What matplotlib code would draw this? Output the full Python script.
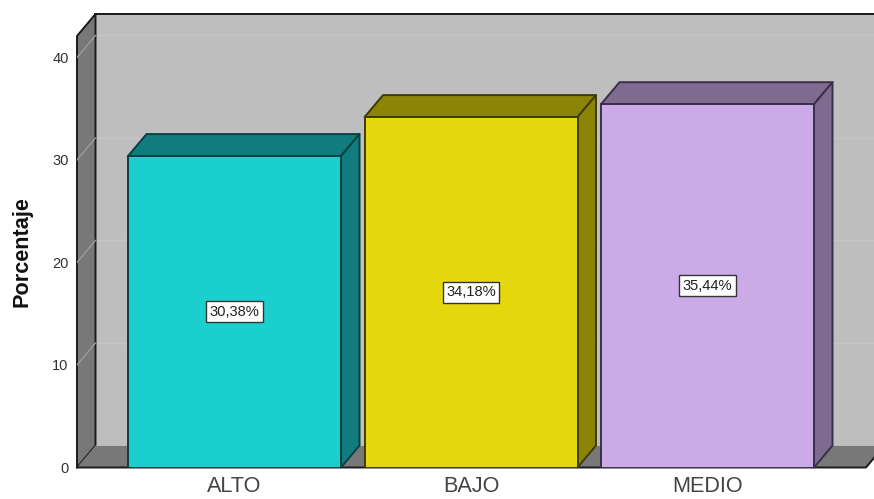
import matplotlib
matplotlib.use("Agg")
import matplotlib.pyplot as plt
from matplotlib.patches import Polygon

plt.rcParams['font.family'] = ['Liberation Sans', 'DejaVu Sans']

categories = ["ALTO", "BAJO", "MEDIO"]
values = [30.38, 34.18, 35.44]
value_labels = ["30,38%", "34,18%", "35,44%"]
front_colors = ["#1CCFCF", "#E5D80F", "#CBABE5"]
dark_colors = ["#107C7F", "#8C8406", "#7F6B8F"]
edge_colors = ["#0A3F40", "#3F3B05", "#3A2F48"]
y_ticks = [0, 10, 20, 30, 40]

WALL = "#BEBEBE"
SIDE = "#787878"
GRID = "#C5C5C5"
LINE = "#1A1A1A"

# one category = 236.5 px, one percent = 10.25 px
depth_x = 18.5 / 236.5
depth_y = 22 / 10.25
bar_w = 213 / 236.5
x0, x1 = -0.666, 2.67
y_top = 44.24 - depth_y

fig = plt.figure(figsize=(8.74, 4.99), dpi=100)
ax = fig.add_axes([77 / 874, 31.5 / 499, 797 / 874, 453.5 / 499])
ax.set_xlim(x0, 2.704)
ax.set_ylim(0, 44.24)
for s in ax.spines.values():
    s.set_visible(False)
ax.patch.set_alpha(0)


def poly(pts, color, edge=LINE, lw=1.4, z=1):
    ax.add_patch(Polygon(pts, closed=True, facecolor=color, edgecolor=edge,
                         linewidth=lw, zorder=z, clip_on=False, joinstyle="round"))


# back wall, left wall, floor
poly([(x0 + depth_x, depth_y), (x1 + depth_x, depth_y), (x1 + depth_x, y_top + depth_y),
      (x0 + depth_x, y_top + depth_y)], WALL, edge="none", z=1)
ax.plot([x0 + depth_x, x1 + depth_x], [y_top + depth_y] * 2, color=LINE, lw=1.4, zorder=2, clip_on=False)
poly([(x0, 0), (x0 + depth_x, depth_y), (x0 + depth_x, y_top + depth_y), (x0, y_top)], SIDE, z=2)
poly([(x0, 0), (x1, 0), (x1 + depth_x, depth_y), (x0 + depth_x, depth_y)], SIDE, edge="none", z=2)
ax.plot([x0, x1, x1 + depth_x], [0, 0, depth_y], color=LINE, lw=1.4, zorder=3, clip_on=False)

# grid lines on the walls
for t in y_ticks[1:]:
    ax.plot([x0 + depth_x, x1 + depth_x], [t + depth_y] * 2, color=GRID, lw=1.0, zorder=1.5, clip_on=False)
    ax.plot([x0, x0 + depth_x], [t, t + depth_y], color="#9C9C9C", lw=1.0, zorder=2.5)

# bars
xs = list(range(len(categories)))
ax.bar(xs, values, width=bar_w, color=front_colors, edgecolor=edge_colors, linewidth=1.4, zorder=6)
for x, v, dark, edge, lab in zip(xs, values, dark_colors, edge_colors, value_labels):
    l, r = x - bar_w / 2, x + bar_w / 2
    poly([(l, v), (r, v), (r + depth_x, v + depth_y), (l + depth_x, v + depth_y)], dark, edge=edge, z=5)
    poly([(r, 0), (r + depth_x, depth_y), (r + depth_x, v + depth_y), (r, v)], dark, edge=edge, z=5)
    ax.text(x, v / 2, lab, ha="center", va="center", fontsize=10.6, color="#222222", zorder=7,
            bbox=dict(boxstyle="square,pad=0.24", facecolor="white", edgecolor="#333333", linewidth=1.0))

ax.set_xticks(xs)
ax.set_xticklabels(categories, fontsize=15.6, color="#444444")
ax.set_yticks(y_ticks)
ax.set_yticklabels([str(t) for t in y_ticks], fontsize=10.5, color="#333333")
ax.tick_params(axis="both", length=0)
ax.tick_params(axis="x", pad=6)
ax.tick_params(axis="y", pad=6)
ax.set_ylabel("Porcentaje", fontsize=15.6, fontweight="bold", color="#111111")
ax.yaxis.set_label_coords(-44 / 797, (467.5 - 251.5) / 453.5)

fig.savefig("out.png", dpi=100)
